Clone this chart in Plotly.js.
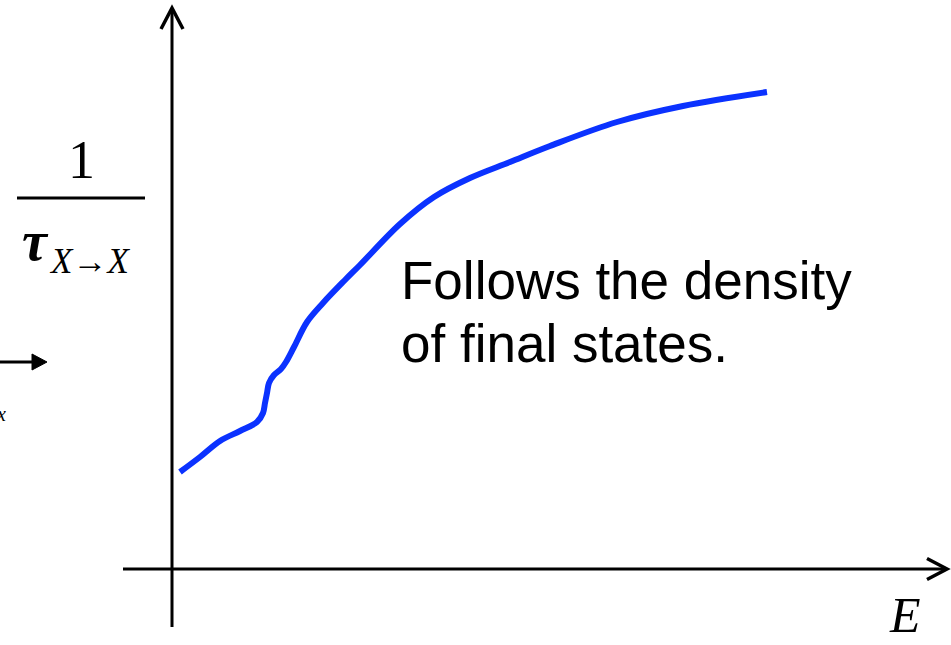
<!DOCTYPE html>
<html>
<head>
<meta charset="utf-8">
<script src="https://cdn.plot.ly/plotly-3.0.1.min.js"></script>
<style>html,body{margin:0;padding:0;background:#fff;}#chart{width:951px;height:645px;}</style>
</head>
<body>
<div id="chart"></div>
<script>
// Curve data (E, 1/tau) in chart units, origin at the axes crossing
const energy = [0.08, 0.28, 0.48, 0.68, 0.85, 0.91, 0.93, 0.95, 0.97, 1.02, 1.09, 1.14, 1.22, 1.35, 1.51, 1.73, 1.88, 2.28, 2.62, 2.98, 3.38, 3.78, 4.45, 5.11, 5.95];
const rate   = [0.97, 1.12, 1.28, 1.38, 1.47, 1.56, 1.66, 1.76, 1.86, 1.94, 2.00, 2.07, 2.22, 2.47, 2.66, 2.89, 3.04, 3.45, 3.72, 3.91, 4.07, 4.23, 4.47, 4.63, 4.77];
const noteLines = ["Follows the density", "of final states."];
const yLabelNum = "1";
const xLabel = "E";

const W = 951, H = 645;
const px = v => v / W;
const py = v => 1 - v / H;
const serif = "Liberation Serif, Times New Roman, serif";
const sans = "Liberation Sans, Arial, sans-serif";

const trace = {
  x: energy, y: rate, type: 'scatter', mode: 'lines',
  line: {color: '#0b32ff', width: 6, shape: 'spline', smoothing: 1},
  hoverinfo: 'skip'
};

const axisLine = {color: '#000', width: 3};
const shapes = [
  {type: 'line', xref: 'x', yref: 'y', x0: 0, x1: 0, y0: -0.58, y1: 5.60, line: axisLine},
  {type: 'path', xref: 'x', yref: 'y', path: 'M -0.11 5.40 L 0 5.61 L 0.11 5.40', line: {color: '#000', width: 3.5}},
  {type: 'line', xref: 'x', yref: 'y', x0: -0.49, x1: 7.74, y0: 0, y1: 0, line: axisLine},
  {type: 'path', xref: 'x', yref: 'y', path: 'M 7.55 0.105 L 7.75 0 L 7.55 -0.105', line: {color: '#000', width: 3.5}},
  // fraction bar
  {type: 'line', xref: 'paper', yref: 'paper', x0: px(17), x1: px(145), y0: py(198), y1: py(198), line: {color: '#000', width: 3}},
  // clipped arrow at left edge
  {type: 'line', xref: 'paper', yref: 'paper', x0: px(-5), x1: px(34), y0: py(362), y1: py(362), line: {color: '#000', width: 3}},
  {type: 'path', xref: 'paper', yref: 'paper', path: `M ${px(32)} ${py(354)} L ${px(47)} ${py(362)} L ${px(32)} ${py(370)} Z`, fillcolor: '#000', line: {color: '#000', width: 1}}
];

const annotations = [
  {text: noteLines[0], xref: 'paper', yref: 'paper', x: px(399), y: py(280), xanchor: 'left', yanchor: 'middle', showarrow: false, font: {family: sans, size: 53, color: '#000'}},
  {text: noteLines[1], xref: 'paper', yref: 'paper', x: px(399), y: py(343), xanchor: 'left', yanchor: 'middle', showarrow: false, font: {family: sans, size: 53, color: '#000'}},
  {text: yLabelNum, xref: 'paper', yref: 'paper', x: px(81), y: py(160), xanchor: 'center', yanchor: 'middle', showarrow: false, font: {family: serif, size: 54, color: '#000'}},
  {text: '<b><i>τ</i></b>', xref: 'paper', yref: 'paper', x: px(35), y: py(241), xanchor: 'center', yanchor: 'middle', showarrow: false, font: {family: serif, size: 56, color: '#000'}},
  {text: '<i>X</i>→<i>X</i>', xref: 'paper', yref: 'paper', x: px(89), y: py(261), xanchor: 'center', yanchor: 'middle', showarrow: false, font: {family: serif, size: 35, color: '#000'}},
  {text: '<i>' + xLabel + '</i>', xref: 'paper', yref: 'paper', x: px(905), y: 0, xanchor: 'center', yanchor: 'bottom', showarrow: false, font: {family: serif, size: 50, color: '#000'}},
  {text: '<i>x</i>', xref: 'paper', yref: 'paper', x: px(1), y: py(414), xanchor: 'center', yanchor: 'middle', showarrow: false, font: {family: serif, size: 20, color: '#000'}}
];

const layout = {
  width: W, height: H,
  margin: {l: 0, r: 0, t: 0, b: 0},
  paper_bgcolor: '#fff', plot_bgcolor: '#fff',
  showlegend: false,
  xaxis: {range: [-1.72, 7.79], visible: false, fixedrange: true},
  yaxis: {range: [-0.76, 5.69], visible: false, fixedrange: true},
  shapes: shapes,
  annotations: annotations
};

Plotly.newPlot('chart', [trace], layout, {displayModeBar: false, staticPlot: true});
</script>
</body>
</html>
